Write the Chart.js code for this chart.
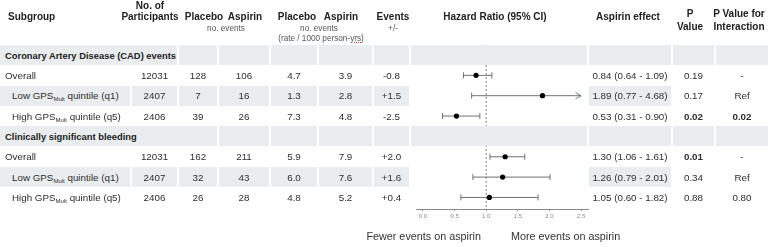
<!DOCTYPE html>
<html>
<head>
<meta charset="utf-8">
<script src="https://cdn.jsdelivr.net/npm/chart.js@4.4.1/dist/chart.umd.min.js"></script>
<style>
    html, body { margin: 0; padding: 0; background: #fff; }
    #wrap { position: relative; width: 779px; height: 247px; overflow: hidden; font-size: 10px;
            font-family: "Liberation Sans", Arial, sans-serif; color: #2e2e2e; }
    #plot { position: absolute; left: 0; top: 0; }
    #tbl { position: absolute; left: 0; top: 0; width: 779px; height: 247px; }
    .t { position: absolute; white-space: nowrap; line-height: 12px; height: 12px; }
    .c { text-align: center; width: 200px; }
    .r { text-align: right; width: 200px; }
    .cell { position: absolute; display: flex; align-items: center; justify-content: center;
            white-space: nowrap; font-size: 9.8px; box-sizing: border-box; overflow: visible; }
    .band { background: #eaedef; }
    .h { font-weight: bold; font-size: 10px; color: #222; }
    .sec { font-weight: bold; font-size: 9.4px; color: #222; justify-content: flex-start; padding-left: 5px; }
    .s { font-size: 8.2px; color: #555; }
    .b { font-weight: bold; }
    .foot { font-size: 10.8px; color: #333; }
    sub { font-size: 6px; vertical-align: -2px; line-height: 0; }
    .yrs { text-decoration: underline dotted #d04040; }
</style>
</head>
<body>
<div id="wrap">
    <canvas id="plot" width="779" height="247"></canvas>
    <div id="tbl"></div>
</div>
<script>
// données du tableau
const sections = ['Coronary Artery Disease (CAD) events', 'Clinically significant bleeding'];
const subgroups = ['Overall', 'Low GPS<sub>Mult</sub> quintile (q1)', 'High GPS<sub>Mult</sub> quintile (q5)'];
const participants = [12031, 2407, 2406, 12031, 2407, 2406];
const placeboEvents = [128, 7, 39, 162, 32, 26];
const aspirinEvents = [106, 16, 26, 211, 43, 28];
const placeboRate = ['4.7', '1.3', '7.3', '5.9', '6.0', '4.8'];
const aspirinRate = ['3.9', '2.8', '4.8', '7.9', '7.6', '5.2'];
const eventsDiff = ['-0.8', '+1.5', '-2.5', '+2.0', '+1.6', '+0.4'];
const hazardRatio = [0.84, 1.89, 0.53, 1.30, 1.26, 1.05];
const ciLow = [0.64, 0.77, 0.31, 1.06, 0.79, 0.60];
const ciHigh = [1.09, 4.68, 0.90, 1.61, 2.01, 1.82];
const pValue = ['0.19', '0.17', '0.02', '0.01', '0.34', '0.88'];
const pInteraction = ['-', 'Ref', '0.02', '-', 'Ref', '0.80'];
const tickValues = [0, 0.5, 1, 1.5, 2, 2.5];
const refLine = 1;

// mise en page
const colEdges = [0, 131, 178, 218, 270, 318, 373, 410, 588, 672, 715, 769];
const rowStep = 20.35;
const firstRow = 55;
const rowCenter = i => firstRow + i * rowStep;
const yMin = -0.5;
const yMax = (209 - firstRow) / rowStep;
const axisMin = -0.11, axisMax = 2.61;
const font = '"Liberation Sans", Arial, sans-serif';

const tbl = document.getElementById('tbl');

// align: 'c' centré sur x, 'l' à partir de x, 'r' finit à x
function text(html, x, cy, cls, align = 'c') {
    const d = document.createElement('div');
    d.className = 't ' + (cls || '') + (align === 'l' ? '' : ' ' + align);
    d.innerHTML = html;
    const left = align === 'c' ? x - 100 : align === 'r' ? x - 200 : x;
    d.style.left = left + 'px';
    d.style.top = (cy - 6) + 'px';
    tbl.appendChild(d);
}

function cell(html, c0, c1, row, cls) {
    const d = document.createElement('div');
    d.className = 'cell ' + (cls || '');
    const l = colEdges[c0] + (c0 === 0 ? 0 : 1);
    const r = colEdges[c1 + 1] - 1;
    d.style.left = l + 'px';
    d.style.width = (r - l) + 'px';
    d.style.top = (rowCenter(row) - 10) + 'px';
    d.style.height = '20px';
    d.innerHTML = '<span>' + html + '</span>';
    tbl.appendChild(d);
    return d;
}

// en-têtes
text('Subgroup', 8, 17, 'h', 'l');
text('No. of', 150, 5.5, 'h');
text('Participants', 150, 17, 'h');
text('Placebo', 204, 17, 'h');
text('Aspirin', 245, 17, 'h');
text('no. events', 226, 29, 's');
text('Placebo', 297, 17, 'h');
text('Aspirin', 341, 17, 'h');
text('no. events', 319, 28.5, 's');
text('(rate / 1000 person-<span class="yrs">yrs</span>)', 321, 39, 's');
text('Events', 393, 17, 'h');
text('+/-', 393, 28.5, 's');
text('Hazard Ratio (95% CI)', 495, 17, 'h');
text('Aspirin effect', 628, 17, 'h');
text('P', 690, 14, 'h');
text('Value', 690, 27, 'h');
text('P Value for', 739, 14, 'h');
text('Interaction', 739, 27, 'h');

// lignes du tableau
const isSig = v => !isNaN(parseFloat(v)) && parseFloat(v) < 0.05;
const rowPos = hazardRatio.map((_, i) => Math.floor(i / 3) * 4 + (i % 3) + 1);

sections.forEach((title, s) => {
    const row = s * 4;
    const span = s === 0 ? 1 : 2;
    for (let c = span + 1; c <= 10; c++) cell('', c, c, row, 'band');
    const head = cell(title, 0, span, row, 'band sec');
    head.style.zIndex = 2;
});

hazardRatio.forEach((hr, i) => {
    const row = rowPos[i];
    const sub = i % 3;
    const band = sub === 1 ? 'band' : '';
    const first = cell(subgroups[sub], 0, 0, row, band);
    first.style.justifyContent = 'flex-start';
    first.style.paddingLeft = (sub === 0 ? 5 : 12) + 'px';
    cell(participants[i], 1, 1, row, band);
    cell(placeboEvents[i], 2, 2, row, band);
    cell(aspirinEvents[i], 3, 3, row, band);
    cell(placeboRate[i], 4, 4, row, band);
    cell(aspirinRate[i], 5, 5, row, band);
    cell(eventsDiff[i], 6, 6, row, band);
    const eff = `${hr.toFixed(2)} (${ciLow[i].toFixed(2)} - ${ciHigh[i].toFixed(2)})`;
    cell(eff, 8, 8, row, band);
    cell(pValue[i], 9, 9, row, isSig(pValue[i]) ? 'b' : '');
    cell(pInteraction[i], 10, 10, row, isSig(pInteraction[i]) ? 'b' : '');
});

text('Fewer events on aspirin', 481, 236, 'foot', 'r');
text('More events on aspirin', 511, 236, 'foot', 'l');

// flèche pour l'IC tronqué
const arrow = document.createElement('canvas');
arrow.width = 14;
arrow.height = 10;
const actx = arrow.getContext('2d');
actx.strokeStyle = '#707070';
actx.lineWidth = 1;
actx.beginPath();
actx.moveTo(1.5, 2);
actx.lineTo(7, 5);
actx.lineTo(1.5, 8);
actx.stroke();

const maxTick = tickValues[tickValues.length - 1];
const ciSets = hazardRatio.map((_, i) => {
    const clipped = ciHigh[i] > maxTick;
    return {
        data: [{ x: ciLow[i], y: rowPos[i] }, { x: clipped ? maxTick : ciHigh[i], y: rowPos[i] }],
        showLine: true,
        borderColor: '#707070',
        borderWidth: 1,
        pointStyle: ['line', clipped ? arrow : 'line'],
        rotation: [90, clipped ? 0 : 90],
        pointRadius: 3,
        pointBorderColor: '#707070',
        pointBorderWidth: 1,
        order: 1
    };
});

new Chart(document.getElementById('plot').getContext('2d'), {
    type: 'scatter',
    data: {
        datasets: [
            {
                data: hazardRatio.map((v, i) => ({ x: v, y: rowPos[i] })),
                pointRadius: 2.6,
                pointBackgroundColor: '#000',
                pointBorderColor: '#000',
                pointBorderWidth: 0,
                showLine: false,
                order: 0
            },
            ...ciSets,
            {
                data: [{ x: refLine, y: yMin }, { x: refLine, y: yMax }],
                showLine: true,
                borderColor: '#7a7a7a',
                borderWidth: 1,
                borderDash: [2, 2],
                pointRadius: 0,
                order: 2
            }
        ]
    },
    options: {
        responsive: false,
        animation: false,
        events: [],
        layout: { padding: { left: 416, right: 191, top: firstRow + yMin * rowStep, bottom: 0 } },
        plugins: { legend: { display: false }, tooltip: { enabled: false } },
        scales: {
            x: {
                type: 'linear',
                min: axisMin,
                max: axisMax,
                afterBuildTicks: s => { s.ticks = tickValues.map(v => ({ value: v })); },
                afterFit: s => { s.height = 247 - 209; },
                border: { display: true, color: '#8a8a8a', width: 1 },
                grid: { display: true, drawOnChartArea: false, drawTicks: true, tickLength: 2, color: '#8a8a8a' },
                ticks: {
                    font: { size: 6, family: font },
                    color: '#8a8a8a',
                    padding: 2,
                    maxRotation: 0,
                    autoSkip: false,
                    callback: v => v.toFixed(1)
                }
            },
            y: { type: 'linear', display: false, min: yMin, max: yMax, reverse: true }
        }
    }
});
</script>
</body>
</html>
